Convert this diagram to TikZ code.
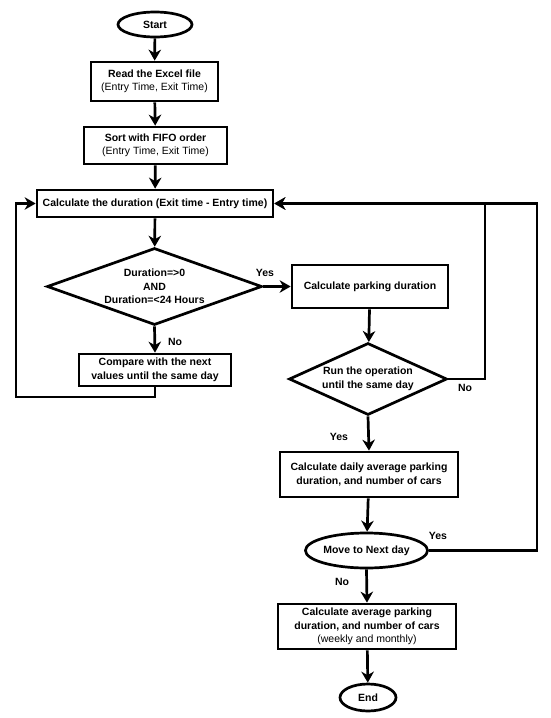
\documentclass[tikz,border=0pt]{standalone}
\usepackage{fontspec}
\setmainfont{Liberation Sans}
\usetikzlibrary{shapes.geometric,arrows.meta}
\begin{document}
\begin{tikzpicture}[x=1pt,y=-1pt,
  every node/.style={font=\fontsize{10.5}{13.5}\selectfont, text=black},
  arr/.style={draw=black, line width=2.7pt, -{Stealth[length=11pt,width=12.5pt,inset=3.5pt]}},
  box/.style={draw=black, line width=2.7pt, fill=white, align=center, inner sep=1pt},
  term/.style={draw=black, line width=2.7pt, fill=white, ellipse, inner sep=0pt},
  dia/.style={draw=black, line width=2.7pt, fill=white, diamond, align=center, inner sep=0pt},
  lbl/.style={font=\fontsize{10.5}{13.5}\selectfont\bfseries}
]
\useasboundingbox (0,0) rectangle (550,718);
\fill[white] (0,0) rectangle (550,718);

\node[term, minimum width=74, minimum height=25] (start) at (155,24.5) {\textbf{Start}};
\node[box, minimum width=127, minimum height=39] (read) at (154.5,81.5) {\textbf{Read the Excel file}\\(Entry Time, Exit Time)};
\node[box, minimum width=143, minimum height=37] (sort) at (155.5,145.5) {\textbf{Sort with FIFO order}\\(Entry Time, Exit Time)};
\node[box, minimum width=236, minimum height=27] (calc) at (155,203.5) {\textbf{Calculate the duration (Exit time - Entry time)}};
\node[dia, aspect=2.8, minimum width=215, minimum height=77] (d1) at (154.5,286.5) {\textbf{Duration=>0}\\\textbf{AND}\\\textbf{Duration=<24 Hours}};
\node[box, minimum width=152, minimum height=32] (cmp) at (155,370) {\textbf{Compare with the next}\\\textbf{values until the same day}};
\node[box, minimum width=156, minimum height=43] (park) at (370,286.5) {\textbf{Calculate parking duration}};
\node[dia, aspect=2.2, minimum width=158, minimum height=72] (d2) at (368,379) {\textbf{Run the operation}\\\textbf{until the same day}};
\node[box, minimum width=178, minimum height=45] (daily) at (369,474.5) {\textbf{Calculate daily average parking}\\\textbf{duration, and number of cars}};
\node[term, minimum width=111, minimum height=35] (mv) at (366.5,550.5) {\textbf{Move to Next day}};
\node[box, minimum width=178, minimum height=45] (avg) at (367,626.5) {\textbf{Calculate average parking}\\\textbf{duration, and number of cars}\\(weekly and monthly)};
\node[term, minimum width=56, minimum height=27] (end) at (368,697.5) {\textbf{End}};

\coordinate (L) at (16,397);
\coordinate (R1) at (485,203.5);
\coordinate (R2) at (537,203.5);

\draw[arr] (start) -- (read);
\draw[arr] (read) -- (sort);
\draw[arr] (sort) -- (calc);
\draw[arr] (calc) -- (d1);
\draw[arr] (d1.east) -- (park.west);
\draw[arr] (d1.south) -- (cmp.north);
\draw[arr] (cmp.south) |- (L) |- (calc.west);
\draw[arr] (park) -- (d2);
\draw[arr] (d2.east) -| (R1) -- (calc.east);
\draw[arr] (d2.south) -- (daily.north);
\draw[arr] (daily) -- (mv);
\draw[arr] (mv.east) -| (R2) -- (calc.east);
\draw[arr] (mv.south) -- (avg.north);
\draw[arr] (avg) -- (end);

\node[lbl] (y1) at (265,273) {Yes};
\node[lbl] (n1) at (175,342) {No};
\node[lbl] (n2) at (465,388) {No};
\node[lbl] (y2) at (339,437) {Yes};
\node[lbl] (y3) at (438,536) {Yes};
\node[lbl] (n3) at (342,581.5) {No};
\end{tikzpicture}
\end{document}
